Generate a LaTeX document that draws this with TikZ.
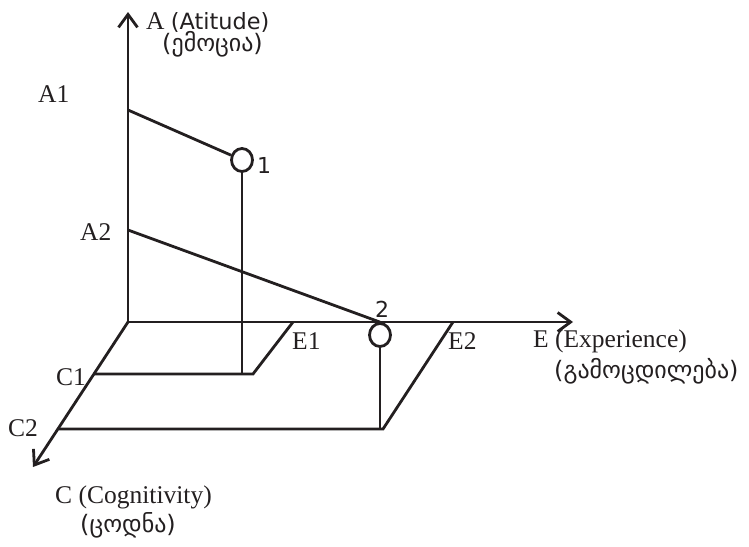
\documentclass[tikz,border=0pt]{standalone}
\usepackage{fontspec}
\setmainfont{Liberation Serif}
\newfontfamily\geofont{DejaVu Sans}
\usetikzlibrary{arrows.meta,positioning,shapes.geometric}
\definecolor{Ink}{HTML}{231F20}
\tikzset{
  axisline/.style={draw=Ink, line width=2.8pt, -{Straight Barb[length=13pt,width=19pt]}},
  linkline/.style={draw=Ink, line width=2.8pt},
  dot/.style={ellipse, draw=Ink, line width=2.8pt, minimum width=21pt, minimum height=23pt, inner sep=0pt},
  serif/.style={text=Ink, inner sep=0pt, font=\fontsize{25.5}{28}\selectfont},
  geo/.style={text=Ink, inner sep=0pt, font=\geofont\fontsize{24}{26}\selectfont}
}
\begin{document}
\begin{tikzpicture}[x=1pt,y=-1pt]
  \useasboundingbox (0,0) rectangle (749,546);
  % axes
  \coordinate (O) at (128,322);
  \coordinate (Atip) at (128,12);
  \coordinate (Etip) at (573,322);
  \coordinate (Ctip) at (33,467);
  \draw[axisline] (O) -- (Atip);
  \draw[axisline] (O) -- (Etip);
  \draw[axisline] (O) -- (Ctip);
  % marks on the axes
  \coordinate (A1) at (128,110);
  \coordinate (A2) at (128,230);
  \coordinate (E1) at (293,322);
  \coordinate (E2) at (453,322);
  \coordinate (C1) at (94,374);
  \coordinate (C2) at (59,429);
  % the two points
  \node[dot] (p1) at (242,160) {};
  \node[dot] (p2) at (380,335) {};
  \coordinate (q1) at (253,374);
  \coordinate (q2) at (383,429);
  \draw[linkline] (A1) -- (p1);
  \draw[linkline] (A2) -- (p2.north);
  \draw[linkline] (p1.south) -- (p1.south |- q1);
  \draw[linkline] (p2.south) -- (p2.south |- q2);
  \draw[linkline] (C1) -- (q1) -- (E1);
  \draw[linkline] (C2) -- (q2) -- (E2);
  % labels
  \node[serif, anchor=west] (labA) at (146,22) {A {\geofont\fontsize{22.4}{24}\selectfont(Atitude)}};
  \node[geo, anchor=west] (geoA) at (162,44) {(ემოცია)};
  \node[serif, anchor=west] (labA1) at (38,94) {A1};
  \node[serif, anchor=west] (labA2) at (80,232) {A2};
  \node[geo, anchor=west, font=\geofont\fontsize{22}{24}\selectfont] (lab1) at (257,165) {1};
  \node[geo, font=\geofont\fontsize{22}{24}\selectfont] (lab2) at (382,309) {2};
  \node[serif, anchor=west] (labE1) at (292,341) {E1};
  \node[serif, anchor=west] (labE2) at (448,341) {E2};
  \node[serif, anchor=west] (labE) at (533,341) {E (Experience)};
  \node[geo, anchor=west] (geoE) at (554,371) {(გამოცდილება)};
  \node[serif, anchor=west] (labC1) at (56,377) {C1};
  \node[serif, anchor=west] (labC2) at (8,428) {C2};
  \node[serif, anchor=west] (labC) at (55,497) {C (Cognitivity)};
  \node[geo, anchor=west] (geoC) at (80,525) {(ცოდნა)};
\end{tikzpicture}
\end{document}
